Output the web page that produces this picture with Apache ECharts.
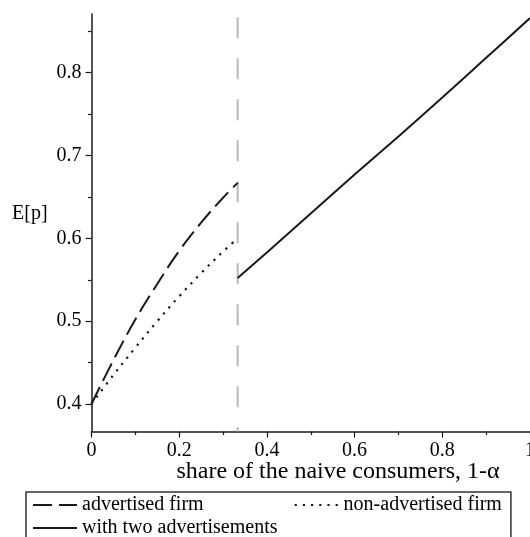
<!DOCTYPE html>
<html>
<head>
<meta charset="utf-8">
<script src="https://cdn.jsdelivr.net/npm/echarts@6/dist/echarts.min.js"></script>
<style>
  html, body { margin: 0; padding: 0; background: #fff; }
  #chart { width: 530px; height: 537px; }
</style>
</head>
<body>
<div id="chart"></div>
<script>
// Expected price E[p] against the share of naive consumers (1 - alpha)
const xLow = [0, 0.05, 0.1, 0.15, 0.2, 0.25, 0.3, 1 / 3];
const advertisedFirm = [0.400, 0.453, 0.502, 0.545, 0.585, 0.619, 0.649, 0.667];
const nonAdvertisedFirm = [0.400, 0.435, 0.468, 0.500, 0.530, 0.558, 0.584, 0.600];

const xHigh = [1 / 3, 0.4, 0.5, 0.6, 0.7, 0.8, 0.9, 1.0];
const twoAdvertisements = [0.552, 0.583, 0.630, 0.677, 0.723, 0.770, 0.818, 0.866];

// threshold 1 - alpha = 1/3
const thresholdX = [1 / 3, 1 / 3];
const thresholdY = [0.3668, 0.8709];

const yMajorTicks = [0.4, 0.5, 0.6, 0.7, 0.8];
const yMinorTicks = [0.45, 0.55, 0.65, 0.75, 0.85];

const seriesNames = ['advertised firm', 'non-advertised firm', 'with two advertisements'];
const yTitle = 'E[p]';
const xTitle = 'share of the naive consumers, 1-\u03b1';

const FONT = 'Liberation Serif';
const INK = '#1a1a1a';

const pairs = (xs, ys) => xs.map((x, i) => [x, ys[i]]);

const chart = echarts.init(document.getElementById('chart'), null, { renderer: 'canvas' });

const yBase = {
  type: 'value',
  position: 'left',
  min: thresholdY[0],
  max: thresholdY[1],
  splitLine: { show: false }
};

// legend entries show only the line sample, no marker
const legendBase = {
  orient: 'horizontal',
  itemWidth: 44,
  itemHeight: 14,
  itemStyle: { opacity: 0, borderWidth: 0 },
  textStyle: { color: '#000', fontFamily: FONT, fontSize: 20 },
  selectedMode: false
};

chart.setOption({
  animation: false,
  backgroundColor: '#ffffff',
  grid: {
    left: 91.5, right: 0, top: 14, bottom: 105.5,
    containLabel: false,
    outerBoundsMode: 'none'
  },
  xAxis: {
    type: 'value',
    min: 0, max: 1, interval: 0.2,
    axisLine: { show: true, onZero: false, lineStyle: { color: INK, width: 1.5 } },
    axisTick: { show: true, length: 6, lineStyle: { color: INK, width: 1.2 } },
    minorTick: { show: true, splitNumber: 2, length: 3.5, lineStyle: { color: INK, width: 1.2 } },
    splitLine: { show: false },
    axisLabel: {
      margin: 9,
      color: '#000',
      fontFamily: FONT,
      fontSize: 20,
      showMinLabel: true,
      showMaxLabel: true,
      formatter: v => (Math.abs(v) < 1e-9 ? '0' : (Math.abs(v - 1) < 1e-9 ? '1' : v.toFixed(1)))
    }
  },
  yAxis: [
    Object.assign({}, yBase, {
      axisLine: { show: true, onZero: false, lineStyle: { color: INK, width: 1.5 } },
      axisTick: { show: true, length: 6, customValues: yMajorTicks, lineStyle: { color: INK, width: 1.2 } },
      axisLabel: {
        margin: 10,
        color: '#000',
        fontFamily: FONT,
        fontSize: 20,
        customValues: yMajorTicks,
        formatter: v => v.toFixed(1)
      }
    }),
    Object.assign({}, yBase, {
      axisLine: { show: false },
      axisTick: { show: true, length: 3.5, customValues: yMinorTicks, lineStyle: { color: INK, width: 1.2 } },
      axisLabel: { show: false }
    })
  ],
  legend: [
    Object.assign({}, legendBase, {
      data: [seriesNames[0], seriesNames[1]],
      left: 26, top: 492,
      padding: [3, 9, 40, 6],
      itemGap: 90,
      borderColor: '#333',
      borderWidth: 1.5
    }),
    Object.assign({}, legendBase, {
      data: [seriesNames[2]],
      left: 26, top: 518,
      padding: [0, 6, 0, 6]
    })
  ],
  graphic: [
    {
      type: 'text',
      left: 12, top: 204,
      style: { text: yTitle, fill: '#000', font: '20px "' + FONT + '"' }
    },
    {
      type: 'text',
      x: 338, y: 472,
      style: {
        text: xTitle, fill: '#000', font: '24px "' + FONT + '"',
        textAlign: 'center', textVerticalAlign: 'middle'
      }
    }
  ],
  series: [
    {
      name: 'threshold',
      type: 'line',
      data: pairs(thresholdX, thresholdY),
      showSymbol: false,
      symbol: 'none',
      silent: true,
      z: 1,
      lineStyle: { color: '#b9b9bd', width: 2, type: [21, 20], dashOffset: 16.7 }
    },
    {
      name: seriesNames[0],
      type: 'line',
      data: pairs(xLow, advertisedFirm),
      smooth: 0.4,
      symbol: 'none',
      color: INK,
      lineStyle: { color: INK, width: 2, type: [19, 7] }
    },
    {
      name: seriesNames[1],
      type: 'line',
      data: pairs(xLow, nonAdvertisedFirm),
      smooth: 0.4,
      symbol: 'none',
      color: INK,
      lineStyle: { color: INK, width: 2.2, type: [2.2, 6] }
    },
    {
      name: seriesNames[2],
      type: 'line',
      data: pairs(xHigh, twoAdvertisements),
      smooth: 0.4,
      symbol: 'none',
      color: INK,
      lineStyle: { color: INK, width: 2, type: 'solid' }
    }
  ]
});
</script>
</body>
</html>
